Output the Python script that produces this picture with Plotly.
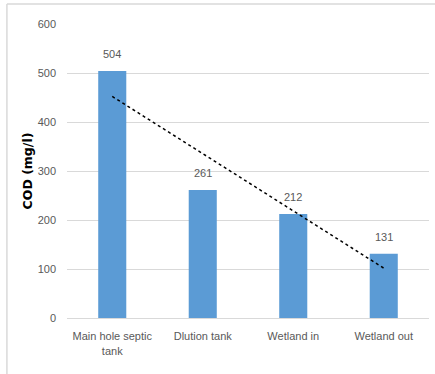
import numpy as np
import plotly.graph_objects as go

categories = ["Main hole septic<br>tank", "Dlution tank", "Wetland in", "Wetland out"]
cod_values = [504, 261, 212, 131]
y_ticks = [0, 100, 200, 300, 400, 500, 600]

# linear trend through the bar values
idx = np.arange(1, len(cod_values) + 1)
slope, intercept = np.polyfit(idx, cod_values, 1)
trend = slope * idx + intercept

font_main = "Liberation Sans Narrow, Arial Narrow, Liberation Sans, sans-serif"
grey = "#595959"

fig = go.Figure()
fig.add_trace(go.Bar(
    x=categories, y=cod_values,
    marker=dict(color="#5B9BD5", line=dict(width=0)),
    width=0.31,
))
fig.add_trace(go.Scatter(
    x=categories, y=trend, mode="lines",
    line=dict(color="#000000", width=1.5, dash="dot"),
))

# value labels above each bar
annotations = [
    dict(x=c, y=v, text=str(v), showarrow=False, yshift=17, yanchor="middle",
         font=dict(family=font_main, size=11, color=grey))
    for c, v in zip(categories, cod_values)
]

fig.update_layout(
    width=435, height=374,
    margin=dict(l=67, r=6, t=24, b=56),
    paper_bgcolor="white", plot_bgcolor="white",
    showlegend=False,
    font=dict(family=font_main, size=11, color=grey),
    annotations=annotations,
    xaxis=dict(showline=True, linecolor="#D9D9D9", linewidth=1,
               tickfont=dict(family=font_main, size=11, color=grey),
               ticks="", showgrid=False, ticklabelstandoff=8),
    yaxis=dict(range=[0, 600], tickvals=y_ticks, showline=False,
               gridcolor="#D9D9D9", gridwidth=1, zeroline=False,
               tickfont=dict(family=font_main, size=11, color=grey),
               ticklabelstandoff=10,
               title=dict(text="<b>COD (mg/l)</b>", standoff=2,
                          font=dict(family="DejaVu Sans, sans-serif",
                                    size=12.5, color="#000000"))),
    shapes=[
        dict(type="line", xref="paper", yref="paper", x0=-0.166, x1=1.02,
             y0=1.068, y1=1.068, line=dict(color="#D9D9D9", width=1.5)),
        dict(type="line", xref="paper", yref="paper", x0=-0.166, x1=-0.166,
             y0=1.068, y1=-0.2, line=dict(color="#D9D9D9", width=1.5)),
    ],
)

fig.write_html("out.html")
